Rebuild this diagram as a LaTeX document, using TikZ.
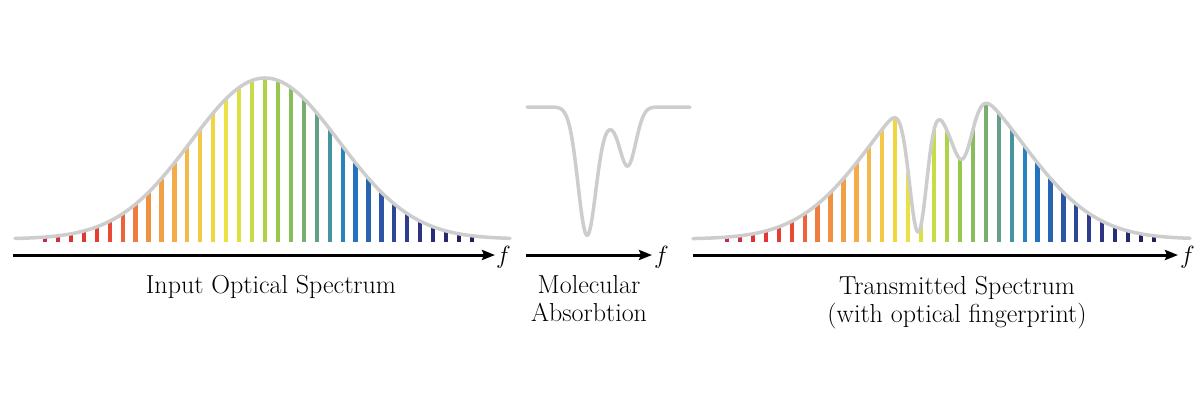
\documentclass[tikz,border=0pt]{standalone}
\usetikzlibrary{arrows.meta}
\definecolor{curvegray}{RGB}{205,205,205}
\begin{document}
\begin{tikzpicture}[x=1pt,y=-1pt,
  declare function={
    gl(\x)=239-161*exp(-0.5*((\x-265)/74)^2);
    tr(\x)=1-0.95*exp(-0.5*((\x-918)/9)^2)-0.45*exp(-0.5*((\x-963)/10)^2)-0.2*exp(-0.5*((\x-945)/10)^2);
    gr(\x)=239-161*exp(-0.5*((\x-947)/74)^2)*tr(\x);
    tm(\x)=1-0.95*exp(-0.5*((\x-587)/9)^2)-0.42*exp(-0.5*((\x-628)/8)^2)-0.1*exp(-0.5*((\x-610)/10)^2);
    gm(\x)=241-134*tm(\x);
  },
  spec/.style={draw=curvegray, line width=3.5pt, line cap=round, line join=round},
  axisarrow/.style={line width=3pt, -{Stealth[length=13pt,width=10pt,inset=2pt]}},
  bar/.style={line width=4.2pt},
  lbl/.style={font=\fontsize{26}{28}\selectfont, align=center, inner sep=0pt, anchor=north},
  flbl/.style={font=\fontsize{24}{28}\selectfont, inner sep=0pt, anchor=west}
]
\fill[white] (0,0) rectangle (1200,400);
\useasboundingbox (0,0) rectangle (1200,400);

% spectral bars
\foreach \i/\r/\g/\b in {0/200/40/70, 1/215/45/55, 2/222/50/50, 3/226/55/50, 4/229/62/50, 5/232/75/52,
  6/235/100/60, 7/238/125/65, 8/240/145/65, 9/242/160/70, 10/244/172/72, 11/244/185/75,
  12/245/200/70, 13/240/215/65, 14/235/225/70, 15/220/225/65, 16/200/220/70, 17/175/210/70,
  18/150/200/75, 19/135/190/90, 20/120/175/110, 21/100/160/135, 22/72/147/160, 23/40/130/190,
  24/35/115/190, 25/40/100/175, 26/45/85/165, 27/45/70/150, 28/45/60/140, 29/45/50/130,
  30/40/45/120, 31/40/40/110, 32/35/35/100, 33/30/30/90}{
  \definecolor{barc}{RGB}{\r,\g,\b}
  \pgfmathsetmacro\xl{45+12.94*\i}
  \draw[bar, barc] (\xl,242) -- (\xl,{gl(\xl)});
  \pgfmathsetmacro\xr{727+12.94*\i}
  \draw[bar, barc] (\xr,242) -- (\xr,{gr(\xr)});
}

% envelopes
\draw[spec] plot[domain=15:510, samples=160] (\x,{gl(\x)});
\draw[spec] plot[domain=527:690, samples=220] (\x,{gm(\x)});
\draw[spec] plot[domain=693:1190, samples=320] (\x,{gr(\x)});

% axes
\coordinate (l0) at (13,255);  \coordinate (l1) at (495,255);
\coordinate (m0) at (526,255); \coordinate (m1) at (652,255);
\coordinate (r0) at (693,255); \coordinate (r1) at (1178,255);
\draw[axisarrow] (l0) -- (l1);
\draw[axisarrow] (m0) -- (m1);
\draw[axisarrow] (r0) -- (r1);
\node[flbl] (fl) at (496,257) {$f$};
\node[flbl] (fm) at (654,257) {$f$};
\node[flbl] (fr) at (1180,257) {$f$};

% labels
\node[lbl] (tin) at (271,275) {Input Optical Spectrum};
\node[lbl] (tmid) at (589,275) {Molecular\\Absorbtion};
\node[lbl] (tout) at (957,276) {Transmitted Spectrum\\(with optical fingerprint)};
\end{tikzpicture}
\end{document}
